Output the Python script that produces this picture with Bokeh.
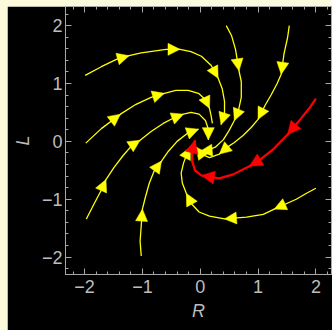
import numpy as np
from bokeh.plotting import figure
from bokeh.models import (ColumnDataSource, Arrow, NormalHead, LinearAxis,
                          SingleIntervalTicker, Range1d, CustomJSTickFormatter,
                          CustomLabelingPolicy)
from bokeh.layouts import column
from bokeh.embed import file_html
from bokeh.resources import INLINE

# ---- data ----
tick_values = [-2, -1, 0, 1, 2]
tick_labels = ["−2", "−1", "0", "1", "2"]
x_label = "R"
y_label = "L"

# yellow streamlines (x, y) and indices of points carrying an arrow tip
A_x = [-1.99, -1.71, -1.44, -1.23, -1.02, -0.59, -0.35, -0.16, 0.02, 0.19, 0.31, 0.38, 0.42, 0.42, 0.36]
A_y = [1.14, 1.29, 1.42, 1.48, 1.53, 1.59, 1.59, 1.55, 1.47, 1.31, 1.09, 0.91, 0.69, 0.48, 0.29]
A_tips = [3, 6, 10, 14]

B_x = [-1.98, -1.71, -1.38, -1.11, -0.85, -0.62, -0.42, -0.21, -0.03, 0.09, 0.16, 0.19, 0.21]
B_y = [-0.03, 0.22, 0.47, 0.64, 0.76, 0.83, 0.88, 0.88, 0.83, 0.72, 0.57, 0.43, 0.31]
B_tips = [2, 5, 10]

E_x = [-1.97, -1.83, -1.71, -1.63, -1.49, -1.33, -1.18, -1.04, -0.85, -0.64, -0.47, -0.29, -0.16, -0.02, 0.09, 0.14, 0.14]
E_y = [-1.34, -1.07, -0.84, -0.66, -0.45, -0.24, -0.07, 0.02, 0.17, 0.31, 0.40, 0.47, 0.50, 0.47, 0.36, 0.21, 0.03]
E_tips = [3, 7, 11, 16]

F_x = [-1.02, -1.04, -1.02, -1.00, -0.95, -0.88, -0.80, -0.67, -0.55, -0.40, -0.22, -0.03]
F_y = [-1.98, -1.72, -1.45, -1.17, -0.97, -0.72, -0.52, -0.34, -0.17, 0.0, 0.14, 0.21]
F_tips = [3, 7, 11]

C_x = [0.45, 0.54, 0.61, 0.67, 0.71, 0.71, 0.66, 0.59, 0.50, 0.40, 0.26, 0.12, 0.0]
C_y = [2.0, 1.83, 1.59, 1.22, 1.03, 0.76, 0.53, 0.36, 0.19, 0.03, -0.10, -0.16, -0.17]
C_tips = [3, 7, 12]

D_x = [1.54, 1.51, 1.45, 1.40, 1.33, 1.23, 1.12, 1.0, 0.88, 0.74, 0.59, 0.47, 0.33, 0.16, 0.02, -0.07]
D_y = [2.0, 1.79, 1.52, 1.16, 1.0, 0.81, 0.62, 0.38, 0.24, 0.10, -0.02, -0.10, -0.22, -0.28, -0.22, -0.10]
D_tips = [3, 7, 12, 15]

H_x = [2.0, 1.83, 1.66, 1.28, 1.09, 0.80, 0.42, 0.16, -0.02, -0.14, -0.24, -0.31, -0.33, -0.29, -0.24, -0.17]
H_y = [-0.81, -0.90, -1.0, -1.17, -1.26, -1.31, -1.34, -1.29, -1.22, -1.09, -0.90, -0.72, -0.55, -0.38, -0.24, -0.10]
H_tips = [3, 6, 10, 15]

# red streamline
R_x = [2.0, 1.90, 1.73, 1.51, 1.26, 1.02, 0.85, 0.57, 0.33, 0.02, -0.09, -0.14, -0.14, -0.09]
R_y = [0.74, 0.59, 0.38, 0.12, -0.14, -0.33, -0.43, -0.57, -0.64, -0.59, -0.50, -0.34, -0.17, 0.02]
R_tips = [3, 6, 9, 13]

yellow_lines = [(A_x, A_y, A_tips), (B_x, B_y, B_tips), (E_x, E_y, E_tips),
                (F_x, F_y, F_tips), (C_x, C_y, C_tips), (D_x, D_y, D_tips),
                (H_x, H_y, H_tips)]
red_lines = [(R_x, R_y, R_tips)]

YELLOW = "#FFFF00"
RED = "#FF0000"
GRAY = "#bdbdbd"
AXIS_GRAY = "#a8a8a8"
CREAM = "#FCFADC"
FONT = "Liberation Sans"

p = figure(width=325, height=324, x_range=Range1d(-2.33, 2.27), y_range=Range1d(-2.30, 2.33),
           output_backend="svg", toolbar_location=None,
           background_fill_color="black", border_fill_color="black",
           min_border_left=58, min_border_right=1, min_border_top=0, min_border_bottom=56,
           x_axis_label=x_label, y_axis_label=y_label)
p.grid.visible = False
p.outline_line_color = AXIS_GRAY
p.margin = (6, 0, 0, 7)

overrides = {v: t for v, t in zip(tick_values, tick_labels)}

no_labels = CustomLabelingPolicy(code="""
try { for (const i of Array.from(indices)) indices.unset(i) } catch (e) {}
return indices
""")


def style_axis(ax, labels=True):
    ax.ticker = SingleIntervalTicker(interval=1, num_minor_ticks=5)
    ax.axis_line_color = AXIS_GRAY
    ax.major_tick_line_color = AXIS_GRAY
    ax.minor_tick_line_color = AXIS_GRAY
    ax.major_tick_in = 6
    ax.major_tick_out = 0
    ax.minor_tick_in = 3
    ax.minor_tick_out = 0
    if labels:
        ax.major_label_overrides = overrides
        ax.major_label_text_font = FONT
        ax.major_label_text_font_size = "18px"
        ax.major_label_text_color = GRAY
        ax.axis_label_text_font = FONT
        ax.axis_label_text_font_size = "18px"
        ax.axis_label_text_font_style = "italic"
        ax.axis_label_text_color = GRAY
    else:
        ax.formatter = CustomJSTickFormatter(code="return ''")
        ax.major_label_policy = no_labels
        ax.major_label_text_font_size = "1px"
        ax.major_label_standoff = 0


style_axis(p.xaxis[0])
style_axis(p.yaxis[0])
p.xaxis[0].major_label_standoff = 5
p.xaxis[0].axis_label_standoff = 5
p.yaxis[0].major_label_standoff = 3
p.yaxis[0].axis_label_standoff = 6

top_ax = LinearAxis()
right_ax = LinearAxis()
style_axis(top_ax, labels=False)
style_axis(right_ax, labels=False)
p.add_layout(top_ax, "above")
p.add_layout(right_ax, "right")


def draw(lines, color, width, head):
    for xs, ys, tips in lines:
        p.line(xs, ys, line_color=color, line_width=width)
        src = ColumnDataSource(dict(
            xs=[xs[i - 1] for i in tips], ys=[ys[i - 1] for i in tips],
            xe=[xs[i] for i in tips], ye=[ys[i] for i in tips]))
        p.add_layout(Arrow(end=NormalHead(size=head, fill_color=color, line_color=color,
                                          line_width=0.5),
                           x_start="xs", y_start="ys", x_end="xe", y_end="ye",
                           source=src, line_alpha=0))


draw(yellow_lines, YELLOW, 1.3, 12)
draw(red_lines, RED, 2.2, 13)

layout = column(p, styles={"background-color": CREAM})

open("out.html", "w").write(file_html(layout, INLINE))
